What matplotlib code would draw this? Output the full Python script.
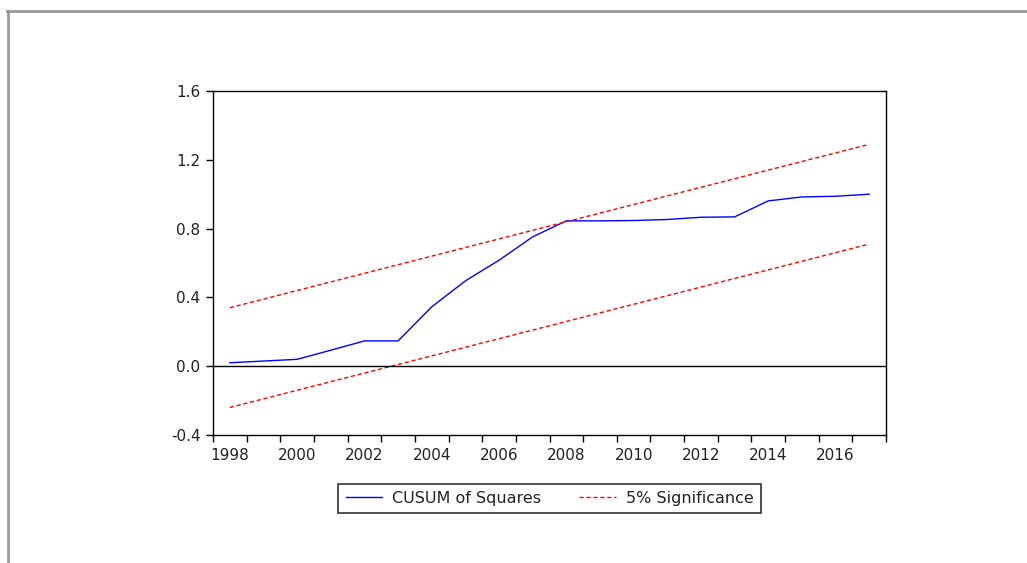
import matplotlib
matplotlib.use("Agg")
import matplotlib.pyplot as plt
from matplotlib.lines import Line2D
from matplotlib.ticker import FixedLocator, FormatStrFormatter

years = [1998, 1999, 2000, 2001, 2002, 2003, 2004, 2005, 2006, 2007,
         2008, 2009, 2010, 2011, 2012, 2013, 2014, 2015, 2016, 2017]
cusum_sq = [0.02, 0.03, 0.04, 0.093, 0.147, 0.147, 0.345, 0.496, 0.616, 0.752,
            0.845, 0.845, 0.847, 0.853, 0.866, 0.868, 0.961, 0.984, 0.988, 1.0]
upper = [0.34, 0.39, 0.44, 0.49, 0.54, 0.59, 0.64, 0.69, 0.74, 0.79,
         0.84, 0.89, 0.94, 0.99, 1.04, 1.09, 1.14, 1.19, 1.24, 1.29]
lower = [-0.24, -0.19, -0.14, -0.09, -0.04, 0.01, 0.06, 0.11, 0.16, 0.21,
         0.26, 0.31, 0.36, 0.41, 0.46, 0.51, 0.56, 0.61, 0.66, 0.71]
xtick_labels = [1998, 2000, 2002, 2004, 2006, 2008, 2010, 2012, 2014, 2016]
yticks = [-0.4, 0.0, 0.4, 0.8, 1.2, 1.6]

plt.rcParams['font.family'] = ['DejaVu Sans']

W, H = 1027, 563
fig = plt.figure(figsize=(W / 100, H / 100), dpi=100)
ax = fig.add_axes([213 / W, 1 - 435 / H, (886 - 213) / W, (435 - 91) / H])

ax.plot(years, cusum_sq, color='#0000ff', lw=1.0, label='CUSUM of Squares')
ax.plot(years, upper, color='#ff0000', lw=1.0, dashes=(3, 2), label='5% Significance')
ax.plot(years, lower, color='#ff0000', lw=1.0, dashes=(3, 2))
ax.axhline(0.0, color='black', lw=1.0)

ax.set_xlim(years[0] - 0.5, years[-1] + 0.5)
ax.set_ylim(-0.4, 1.6)

ax.xaxis.set_major_locator(FixedLocator(xtick_labels))
ax.set_xticklabels([str(y) for y in xtick_labels])
ax.xaxis.set_minor_locator(FixedLocator([y - 0.5 for y in years] + [years[-1] + 0.5]))
ax.tick_params(axis='x', which='major', length=0, pad=9, labelsize=11, colors='#222222')
ax.tick_params(axis='x', which='minor', length=5, width=1.0, direction='out', color='black')

ax.set_yticks(yticks)
ax.yaxis.set_major_formatter(FormatStrFormatter('%.1f'))
ax.tick_params(axis='y', which='major', length=5, width=1.0, direction='out', pad=4,
               labelsize=11, labelcolor='#222222', color='black')

for sp in ax.spines.values():
    sp.set_linewidth(1.0)
    sp.set_color('black')

leg = ax.legend(loc='center', bbox_to_anchor=(549.5 / W, 1 - 498.5 / H),
                bbox_transform=fig.transFigure, ncol=2, fontsize=11.5,
                frameon=True, fancybox=False, edgecolor='black',
                handlelength=2.3, handletextpad=0.6, columnspacing=2.4,
                borderpad=0.45, borderaxespad=0)
leg.get_frame().set_linewidth(1.2)
for t in leg.get_texts():
    t.set_color('#222222')

# outer gray frame
fig.add_artist(Line2D([7 / W, 1.0], [1 - 11 / H, 1 - 11 / H], transform=fig.transFigure,
                      color='#999999', lw=2))
fig.add_artist(Line2D([8 / W, 8 / W], [1 - 11 / H, 0.0], transform=fig.transFigure,
                      color='#999999', lw=2))

fig.savefig('out.png', dpi=100)
